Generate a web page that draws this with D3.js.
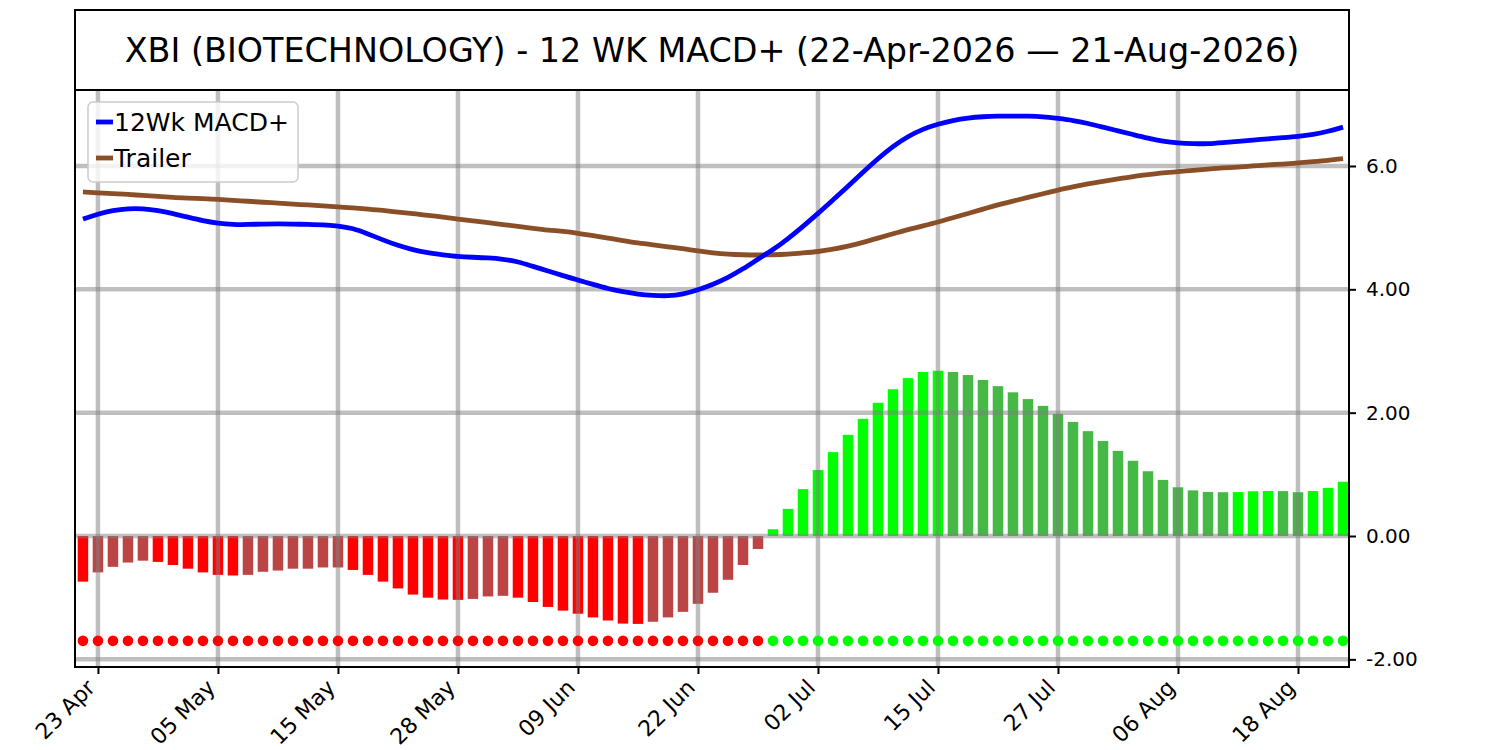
<!DOCTYPE html>
<html>
<head>
<meta charset="utf-8">
<script src="https://cdn.jsdelivr.net/npm/d3@7"></script>
<style>
body { margin: 0; background: #fff; }
svg { display: block; font-family: "DejaVu Sans", sans-serif; }
</style>
</head>
<body>
<svg id="chart" width="1500" height="750"></svg>
<script>
// trading days shown on the x axis
const dates = [
  '2026-04-22','2026-04-23','2026-04-24','2026-04-27','2026-04-28','2026-04-29','2026-04-30',
  '2026-05-01','2026-05-04','2026-05-05','2026-05-06','2026-05-07','2026-05-08','2026-05-11',
  '2026-05-12','2026-05-13','2026-05-14','2026-05-15','2026-05-18','2026-05-19','2026-05-20',
  '2026-05-21','2026-05-22','2026-05-26','2026-05-27','2026-05-28','2026-05-29','2026-06-01',
  '2026-06-02','2026-06-03','2026-06-04','2026-06-05','2026-06-08','2026-06-09','2026-06-10',
  '2026-06-11','2026-06-12','2026-06-15','2026-06-16','2026-06-17','2026-06-18','2026-06-22',
  '2026-06-23','2026-06-24','2026-06-25','2026-06-26','2026-06-29','2026-06-30','2026-07-01',
  '2026-07-02','2026-07-06','2026-07-07','2026-07-08','2026-07-09','2026-07-10','2026-07-13',
  '2026-07-14','2026-07-15','2026-07-16','2026-07-17','2026-07-20','2026-07-21','2026-07-22',
  '2026-07-23','2026-07-24','2026-07-27','2026-07-28','2026-07-29','2026-07-30','2026-07-31',
  '2026-08-03','2026-08-04','2026-08-05','2026-08-06','2026-08-07','2026-08-10','2026-08-11',
  '2026-08-12','2026-08-13','2026-08-14','2026-08-17','2026-08-18','2026-08-19','2026-08-20',
  '2026-08-21'
];
const xTickDates = ['2026-04-23','2026-05-05','2026-05-15','2026-05-28','2026-06-09','2026-06-22',
  '2026-07-02','2026-07-15','2026-07-27','2026-08-06','2026-08-18'];
const xTickLabels = ['23 Apr','05 May','15 May','28 May','09 Jun','22 Jun','02 Jul','15 Jul','27 Jul','06 Aug','18 Aug'];

const macd = [
  5.14,5.22,5.28,5.31,5.31,5.28,5.23,5.17,5.11,5.07,5.05,5.05,5.06,5.06,5.06,5.05,5.05,
  5.03,4.99,4.90,4.80,4.71,4.64,4.59,4.56,4.53,4.52,4.51,4.49,4.45,4.37,4.30,4.22,4.15,
  4.08,4.01,3.96,3.92,3.90,3.89,3.92,3.99,4.08,4.19,4.33,4.49,4.64,4.82,5.02,5.23,5.45,
  5.67,5.90,6.12,6.32,6.48,6.60,6.68,6.74,6.78,6.80,6.81,6.81,6.81,6.80,6.77,6.74,6.69,
  6.63,6.57,6.51,6.45,6.40,6.37,6.36,6.36,6.38,6.40,6.42,6.44,6.46,6.48,6.51,6.56,6.63
];
const trailer = [
  5.58,5.565,5.55,5.54,5.52,5.51,5.49,5.48,5.47,5.46,5.44,5.43,5.41,5.40,5.38,5.37,5.35,
  5.34,5.32,5.30,5.28,5.25,5.23,5.20,5.17,5.14,5.11,5.08,5.05,5.02,4.99,4.96,4.94,4.91,
  4.87,4.83,4.79,4.75,4.72,4.69,4.66,4.62,4.59,4.57,4.56,4.555,4.56,4.57,4.59,4.61,4.65,
  4.70,4.76,4.83,4.90,4.97,5.03,5.09,5.16,5.23,5.30,5.37,5.43,5.49,5.55,5.61,5.66,5.71,
  5.75,5.79,5.83,5.86,5.89,5.91,5.93,5.95,5.97,5.98,6.00,6.02,6.03,6.05,6.07,6.09,6.12
];
const hist = [
  -0.74,-0.59,-0.50,-0.43,-0.40,-0.42,-0.47,-0.53,-0.59,-0.63,-0.64,-0.63,-0.58,-0.56,
  -0.53,-0.53,-0.51,-0.51,-0.55,-0.63,-0.74,-0.85,-0.95,-1.00,-1.03,-1.035,-1.02,-0.98,
  -0.97,-1.00,-1.07,-1.15,-1.21,-1.26,-1.32,-1.37,-1.42,-1.425,-1.39,-1.32,-1.23,-1.10,
  -0.92,-0.71,-0.47,-0.21,0.11,0.44,0.76,1.07,1.36,1.64,1.90,2.16,2.38,2.56,2.66,2.68,
  2.66,2.61,2.53,2.43,2.33,2.22,2.11,1.98,1.85,1.70,1.54,1.38,1.22,1.05,0.91,0.79,0.74,
  0.715,0.71,0.712,0.725,0.73,0.728,0.71,0.73,0.78,0.88
];
const signalLevel = -1.7;

const yTicks = [-2, 0, 2, 4, 6];
const yTickLabels = ['-2.00', '0.00', '2.00', '4.00', '6.0'];
const seriesNames = ['12Wk MACD+', 'Trailer'];
const title = 'XBI (BIOTECHNOLOGY) - 12 WK MACD+ (22-Apr-2026 \u2014 21-Aug-2026)';

const svg = d3.select('#chart');
const pL = 75, pR = 1349, pT = 90, pB = 667;

const x = d3.scaleLinear().domain([-0.53, 84.4]).range([pL, pR]);
const y = d3.scaleLinear().domain([-2.124, 7.232]).range([pB, pT]);
const barW = x(0.35) - x(-0.35);

// title box
svg.append('rect').attr('x', pL).attr('y', 10).attr('width', pR - pL).attr('height', pT - 10)
  .attr('fill', 'none').attr('stroke', '#000').attr('stroke-width', 2);
svg.append('text').attr('x', (pL + pR) / 2).attr('y', 50)
  .attr('text-anchor', 'middle').attr('dominant-baseline', 'central')
  .attr('font-size', 33.4).attr('fill', '#000').text(title);

svg.append('clipPath').attr('id', 'plot').append('rect')
  .attr('x', pL).attr('y', pT).attr('width', pR - pL).attr('height', pB - pT);
const plot = svg.append('g').attr('clip-path', 'url(#plot)');

// histogram bars
const barColor = (d, i) => {
  const prev = i > 0 ? hist[i - 1] : null;
  if (d < 0) return (prev === null || d < prev) ? '#ff0000' : '#bb4545';
  return (prev === null || d > prev) ? '#00ff00' : '#45b845';
};
plot.selectAll('rect.bar').data(hist).enter().append('rect')
  .attr('class', 'bar')
  .attr('x', (d, i) => x(i) - barW / 2)
  .attr('y', d => y(Math.max(0, d)))
  .attr('width', barW)
  .attr('height', d => Math.abs(y(d) - y(0)))
  .attr('fill', barColor);

// grid on top of bars
const xTickIdx = xTickDates.map(d => dates.indexOf(d));
plot.append('g').selectAll('line').data(xTickIdx).enter().append('line')
  .attr('x1', d => x(d)).attr('x2', d => x(d)).attr('y1', pT).attr('y2', pB)
  .attr('stroke', '#808080').attr('stroke-opacity', 0.5).attr('stroke-width', 4.5);
plot.append('g').selectAll('line').data(yTicks).enter().append('line')
  .attr('x1', pL).attr('x2', pR).attr('y1', d => y(d)).attr('y2', d => y(d))
  .attr('stroke', '#808080').attr('stroke-opacity', 0.5).attr('stroke-width', 4.5);

// lines
const line = d3.line().x((d, i) => x(i)).y(d => y(d)).curve(d3.curveBasis);
plot.append('path').datum(trailer).attr('d', line)
  .attr('fill', 'none').attr('stroke', '#8b4f28').attr('stroke-width', 4.8);
plot.append('path').datum(macd).attr('d', line)
  .attr('fill', 'none').attr('stroke', '#0000ff').attr('stroke-width', 4.8);

// signal dots
plot.selectAll('circle').data(hist).enter().append('circle')
  .attr('cx', (d, i) => x(i)).attr('cy', y(signalLevel)).attr('r', 5.3)
  .attr('fill', d => d < 0 ? '#ff0000' : '#00ff00');

// frame
svg.append('rect').attr('x', pL).attr('y', pT).attr('width', pR - pL).attr('height', pB - pT)
  .attr('fill', 'none').attr('stroke', '#000').attr('stroke-width', 2);

// x axis
const xAxis = svg.append('g').attr('transform', `translate(0,${pB})`)
  .call(d3.axisBottom(x).tickValues(xTickIdx).tickSize(7).tickPadding(0)
    .tickFormat((d, i) => xTickLabels[i]));
xAxis.select('.domain').remove();
xAxis.selectAll('.tick line').attr('stroke', '#000').attr('stroke-width', 2);
xAxis.selectAll('.tick text')
  .attr('font-family', 'DejaVu Sans').attr('font-size', 22).attr('fill', '#000')
  .attr('text-anchor', 'end').attr('dy', null).attr('y', null)
  .attr('transform', 'translate(-2,22) rotate(-45)');

// y axis on the right
const yAxis = svg.append('g').attr('transform', `translate(${pR},0)`)
  .call(d3.axisRight(y).tickValues(yTicks).tickSize(7).tickPadding(10)
    .tickFormat((d, i) => yTickLabels[i]));
yAxis.select('.domain').remove();
yAxis.selectAll('.tick line').attr('stroke', '#000').attr('stroke-width', 2);
yAxis.selectAll('.tick text').attr('font-family', 'DejaVu Sans').attr('font-size', 20).attr('fill', '#000');

// legend
const lg = svg.append('g');
lg.append('rect').attr('x', 88).attr('y', 102).attr('width', 210).attr('height', 80).attr('rx', 5)
  .attr('fill', '#fff').attr('fill-opacity', 0.8).attr('stroke', '#cccccc').attr('stroke-width', 1.5);
const legendColors = ['#0000ff', '#8b4f28'];
seriesNames.forEach((name, i) => {
  const ly = 122 + i * 36;
  lg.append('line').attr('x1', 96).attr('x2', 113).attr('y1', ly).attr('y2', ly)
    .attr('stroke', legendColors[i]).attr('stroke-width', 4.8);
  lg.append('text').attr('x', 114).attr('y', ly).attr('dominant-baseline', 'central')
    .attr('font-size', 25).attr('fill', '#000').text(name);
});
</script>
</body>
</html>
